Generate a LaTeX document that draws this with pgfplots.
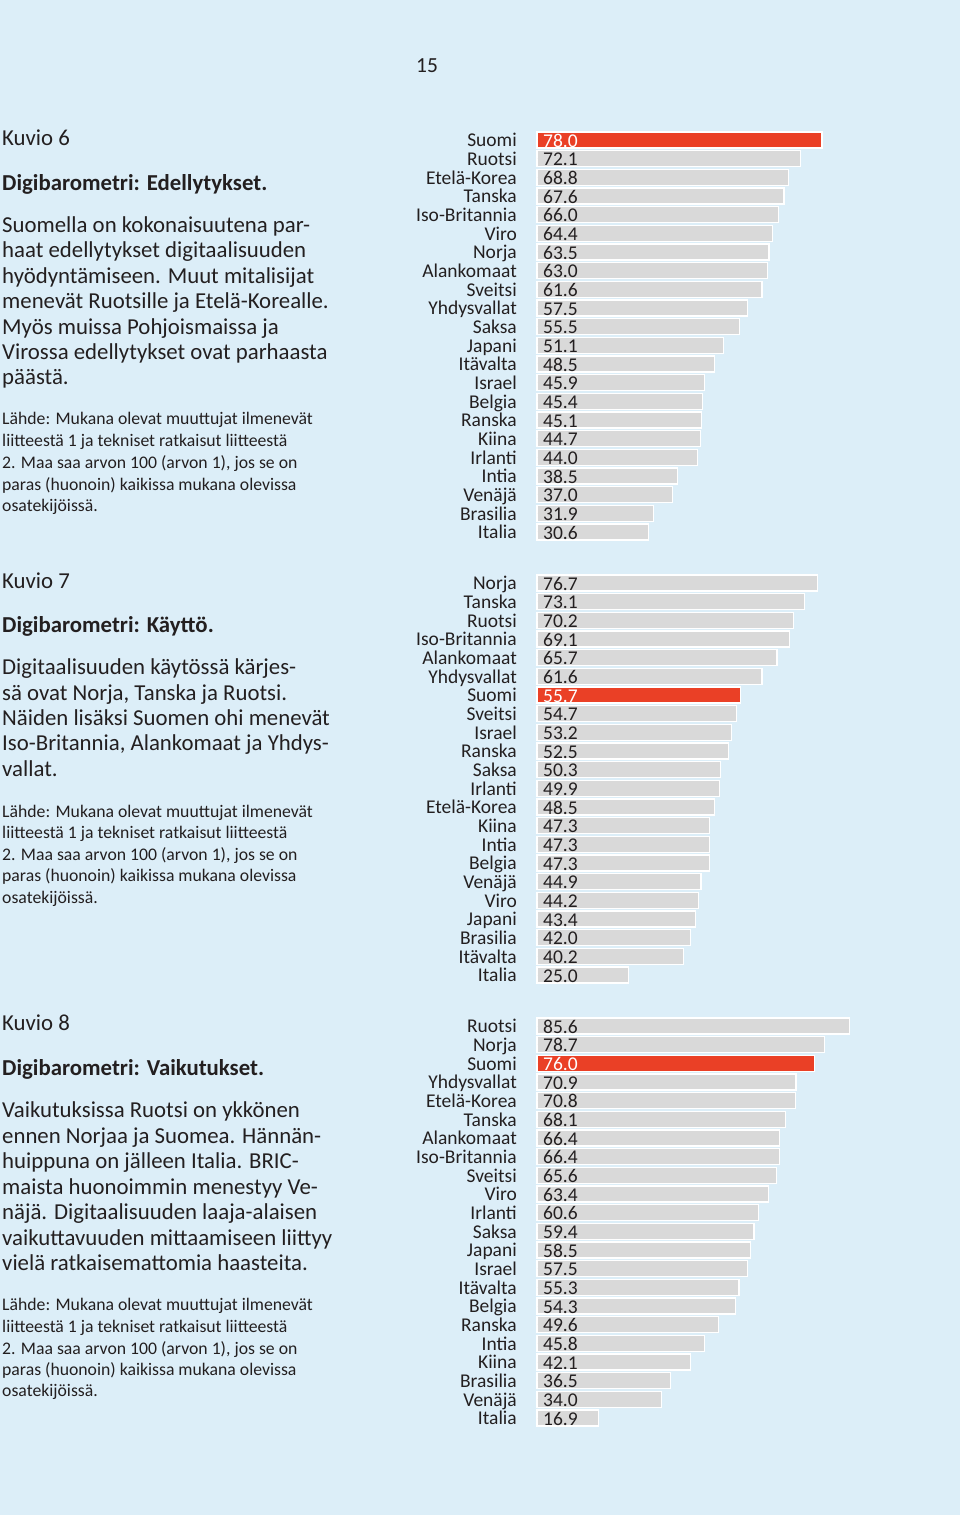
\documentclass[border=0pt]{standalone}
\usepackage{pgfplots}
\pgfplotsset{compat=1.18}
\usepackage{pgfplotstable}
\usepackage{fontspec}
\setmainfont{Carlito}

\definecolor{bg}{RGB}{220,238,248}
\definecolor{barg}{RGB}{217,217,217}
\definecolor{barr}{RGB}{234,64,38}
\definecolor{ink}{RGB}{35,31,32}

\newcommand\bodyfont{\fontsize{22.8bp}{27bp}\selectfont}
\newcommand\srcfont{\fontsize{17.7bp}{21bp}\selectfont}
\newcommand\labfont{\fontsize{19.5bp}{23bp}\selectfont}

% Kuvio 6
\pgfplotstableread{
i v
1 72.1
2 68.8
3 67.6
4 66.0
5 64.4
6 63.5
7 63.0
8 61.6
9 57.5
10 55.5
11 51.1
12 48.5
13 45.9
14 45.4
15 45.1
16 44.7
17 44.0
18 38.5
19 37.0
20 31.9
21 30.6
}\sixg
\pgfplotstableread{
i v
0 78.0
}\sixr

% Kuvio 7
\pgfplotstableread{
i v
0 76.7
1 73.1
2 70.2
3 69.1
4 65.7
5 61.6
7 54.7
8 53.2
9 52.5
10 50.3
11 49.9
12 48.5
13 47.3
14 47.3
15 47.3
16 44.9
17 44.2
18 43.4
19 42.0
20 40.2
21 25.0
}\seveng
\pgfplotstableread{
i v
6 55.7
}\sevenr

% Kuvio 8
\pgfplotstableread{
i v
0 85.6
1 78.7
3 70.9
4 70.8
5 68.1
6 66.4
7 66.4
8 65.6
9 63.4
10 60.6
11 59.4
12 58.5
13 57.5
14 55.3
15 54.3
16 49.6
17 45.8
18 42.1
19 36.5
20 34.0
21 16.9
}\eightg
\pgfplotstableread{
i v
2 76.0
}\eightr

\pgfplotsset{
  digi/.style={
    scale only axis, width=365.4bp, height=410.67bp,
    xmin=0, xmax=100, ymin=-0.5, ymax=21.5, y dir=reverse,
    anchor=north west, clip=false,
    axis line style={draw=none}, major tick style={draw=none},
    xtick=\empty, ytick={0,...,21},
    yticklabel style={font=\labfont, text=ink, anchor=base east,
      inner sep=0pt, xshift=-20bp, yshift=-6.8bp},
    bar width=16bp, bar shift=0pt,
  },
  gbar/.style={xbar, fill=barg, draw=white, line width=1.2bp},
  rbar/.style={xbar, fill=barr, draw=white, line width=1.2bp},
  vlab/.style={only marks, mark=*, mark size=0pt,
    mark options={draw=none, fill=none},
    point meta=explicit symbolic,
    nodes near coords={\pgfplotspointmeta},
    every node near coord/.append style={anchor=base west, inner sep=0pt,
      xshift=6bp, yshift=-7.2bp, font=\labfont, text=#1}},
}

\begin{document}
\begin{tikzpicture}
\fill[bg] (0,0) rectangle (960bp,1515bp);

\node[anchor=base, inner sep=0pt, text=ink, font=\fontsize{21.5bp}{25bp}\selectfont] at (427bp,1442bp) {15};

\begin{scope}[yshift=-2.5bp, every node/.style={anchor=base west, inner sep=0pt, text=ink}]
% ---- Kuvio 6 text
\node[font=\bodyfont] at (2bp,1372bp) {Kuvio 6};
\node[font=\bodyfont\bfseries] at (2bp,1327bp) {Digibarometri: Edellytykset.};
\node[font=\bodyfont] at (2bp,1285bp) {Suomella on kokonaisuutena par-};
\node[font=\bodyfont] at (2bp,1260bp) {haat edellytykset digitaalisuuden};
\node[font=\bodyfont] at (2bp,1234bp) {hyödyntämiseen. Muut mitalisijat};
\node[font=\bodyfont] at (2bp,1209bp) {menevät Ruotsille ja Etelä-Korealle.};
\node[font=\bodyfont] at (2bp,1183bp) {Myös muissa Pohjoismaissa ja};
\node[font=\bodyfont] at (2bp,1158bp) {Virossa edellytykset ovat parhaasta};
\node[font=\bodyfont] at (2bp,1133bp) {päästä.};
\node[font=\srcfont] at (2bp,1093bp) {Lähde: Mukana olevat muuttujat ilmenevät};
\node[font=\srcfont] at (2bp,1071bp) {liitteestä 1 ja tekniset ratkaisut liitteestä};
\node[font=\srcfont] at (2bp,1049bp) {2. Maa saa arvon 100 (arvon 1), jos se on};
\node[font=\srcfont] at (2bp,1027bp) {paras (huonoin) kaikissa mukana olevissa};
\node[font=\srcfont] at (2bp,1006bp) {osatekijöissä.};

% ---- Kuvio 7 text
\node[font=\bodyfont] at (2bp,929bp) {Kuvio 7};
\node[font=\bodyfont\bfseries] at (2bp,885bp) {Digibarometri: Käyttö.};
\node[font=\bodyfont] at (2bp,843bp) {Digitaalisuuden käytössä kärjes-};
\node[font=\bodyfont] at (2bp,817bp) {sä ovat Norja, Tanska ja Ruotsi.};
\node[font=\bodyfont] at (2bp,792bp) {Näiden lisäksi Suomen ohi menevät};
\node[font=\bodyfont] at (2bp,767bp) {Iso-Britannia, Alankomaat ja Yhdys-};
\node[font=\bodyfont] at (2bp,741bp) {vallat.};
\node[font=\srcfont] at (2bp,700bp) {Lähde: Mukana olevat muuttujat ilmenevät};
\node[font=\srcfont] at (2bp,679bp) {liitteestä 1 ja tekniset ratkaisut liitteestä};
\node[font=\srcfont] at (2bp,657bp) {2. Maa saa arvon 100 (arvon 1), jos se on};
\node[font=\srcfont] at (2bp,636bp) {paras (huonoin) kaikissa mukana olevissa};
\node[font=\srcfont] at (2bp,614bp) {osatekijöissä.};

% ---- Kuvio 8 text
\node[font=\bodyfont] at (2bp,487bp) {Kuvio 8};
\node[font=\bodyfont\bfseries] at (2bp,442bp) {Digibarometri: Vaikutukset.};
\node[font=\bodyfont] at (2bp,400bp) {Vaikutuksissa Ruotsi on ykkönen};
\node[font=\bodyfont] at (2bp,374bp) {ennen Norjaa ja Suomea. Hännän-};
\node[font=\bodyfont] at (2bp,349bp) {huippuna on jälleen Italia. BRIC-};
\node[font=\bodyfont] at (2bp,323bp) {maista huonoimmin menestyy Ve-};
\node[font=\bodyfont] at (2bp,298bp) {näjä. Digitaalisuuden laaja-alaisen};
\node[font=\bodyfont] at (2bp,272bp) {vaikuttavuuden mittaamiseen liittyy};
\node[font=\bodyfont] at (2bp,247bp) {vielä ratkaisemattomia haasteita.};
\node[font=\srcfont] at (2bp,207bp) {Lähde: Mukana olevat muuttujat ilmenevät};
\node[font=\srcfont] at (2bp,185bp) {liitteestä 1 ja tekniset ratkaisut liitteestä};
\node[font=\srcfont] at (2bp,163bp) {2. Maa saa arvon 100 (arvon 1), jos se on};
\node[font=\srcfont] at (2bp,142bp) {paras (huonoin) kaikissa mukana olevissa};
\node[font=\srcfont] at (2bp,121bp) {osatekijöissä.};
\end{scope}

% ---- Kuvio 6 chart
\begin{axis}[digi, at={(537bp,1384.33bp)},
  yticklabels={Suomi,Ruotsi,Etelä-Korea,Tanska,Iso-Britannia,Viro,Norja,Alankomaat,Sveitsi,Yhdysvallat,Saksa,Japani,Itävalta,Israel,Belgia,Ranska,Kiina,Irlanti,Intia,Venäjä,Brasilia,Italia}]
\addplot[gbar] table[x=v, y=i] {\sixg};
\addplot[rbar] table[x=v, y=i] {\sixr};
\addplot[vlab=ink] table[x expr=0, y=i, meta=v] {\sixg};
\addplot[vlab=white] table[x expr=0, y=i, meta=v] {\sixr};
\end{axis}

% ---- Kuvio 7 chart
\begin{axis}[digi, at={(537bp,941.33bp)},
  yticklabels={Norja,Tanska,Ruotsi,Iso-Britannia,Alankomaat,Yhdysvallat,Suomi,Sveitsi,Israel,Ranska,Saksa,Irlanti,Etelä-Korea,Kiina,Intia,Belgia,Venäjä,Viro,Japani,Brasilia,Itävalta,Italia}]
\addplot[gbar] table[x=v, y=i] {\seveng};
\addplot[rbar] table[x=v, y=i] {\sevenr};
\addplot[vlab=ink] table[x expr=0, y=i, meta=v] {\seveng};
\addplot[vlab=white] table[x expr=0, y=i, meta=v] {\sevenr};
\end{axis}

% ---- Kuvio 8 chart
\begin{axis}[digi, at={(537bp,498.33bp)},
  yticklabels={Ruotsi,Norja,Suomi,Yhdysvallat,Etelä-Korea,Tanska,Alankomaat,Iso-Britannia,Sveitsi,Viro,Irlanti,Saksa,Japani,Israel,Itävalta,Belgia,Ranska,Intia,Kiina,Brasilia,Venäjä,Italia}]
\addplot[gbar] table[x=v, y=i] {\eightg};
\addplot[rbar] table[x=v, y=i] {\eightr};
\addplot[vlab=ink] table[x expr=0, y=i, meta=v] {\eightg};
\addplot[vlab=white] table[x expr=0, y=i, meta=v] {\eightr};
\end{axis}

\pgfresetboundingbox
\useasboundingbox (0,0) rectangle (960bp,1515bp);
\end{tikzpicture}
\end{document}
